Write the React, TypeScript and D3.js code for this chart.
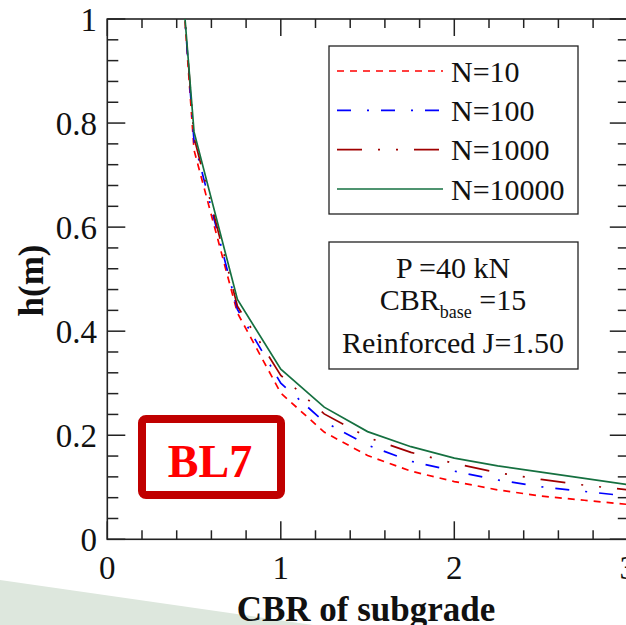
import React from "react";
import * as d3 from "d3";

const cbr = [0.4, 0.5, 0.75, 1, 1.25, 1.5, 1.75, 2, 2.25, 2.5, 2.75, 3];
const hN10 = [1.22, 0.748, 0.435, 0.281, 0.206, 0.161, 0.131, 0.111, 0.095, 0.083, 0.075, 0.067];
const hN100 = [1.21, 0.765, 0.442, 0.3, 0.226, 0.181, 0.15, 0.131, 0.114, 0.101, 0.092, 0.083];
const hN1000 = [1.21, 0.772, 0.448, 0.315, 0.241, 0.196, 0.167, 0.146, 0.128, 0.115, 0.104, 0.095];
const hN10000 = [1.2, 0.783, 0.461, 0.327, 0.254, 0.207, 0.178, 0.156, 0.141, 0.129, 0.117, 0.105];

const seriesNames = ["N=10", "N=100", "N=1000", "N=10000"];
const seriesValues = [hN10, hN100, hN1000, hN10000];
const seriesColors = ["#ff0000", "#0000ff", "#a00000", "#157040"];
const seriesDash = ["7,6", "14,16,2,12", "25,16,2,16,2,16", "none"];

const xMajor = [0, 1, 2, 3];
const yMajor = [0, 0.2, 0.4, 0.6, 0.8, 1];
const yMajorLabels = ["0", "0.2", "0.4", "0.6", "0.8", "1"];
const infoLines = ["P =40 kN", "CBR", "base", " =15", "Reinforced J=1.50"];

const W = 626;
const H = 625;
const L = 107.3;
const R = 627.8;
const T = 19;
const B = 539.3;
const FONT = "'Liberation Serif', 'Times New Roman', serif";

export default function App() {
  const x = d3.scaleLinear().domain([0, 3]).range([L, R]);
  const y = d3.scaleLinear().domain([0, 1]).range([B, T]);
  const xMinor = d3.range(0, 3.0001, 0.2).filter((v) => Math.abs(v - Math.round(v)) > 1e-6);
  const yMinor = d3.range(0, 1.0001, 0.04).filter((v) => Math.abs(v * 5 - Math.round(v * 5)) > 1e-6);
  const line = d3
    .line<number>()
    .x((_, i) => x(cbr[i]))
    .y((d) => y(d));
  const axisColor = "#222";
  const legendYs = [71, 110.3, 149.6, 189];

  return (
    <svg
      width={W}
      height={H}
      style={{ position: "fixed", left: 0, top: 0, background: "#fff" }}
      fontFamily={FONT}
    >
      <rect x={0} y={0} width={W} height={H} fill="#fff" />
      <polygon points={`0,580 313,625 0,625`} fill="#dde7dd" />
      <defs>
        <clipPath id="plotclip">
          <rect x={L} y={T} width={R - L} height={B - T} />
        </clipPath>
      </defs>

      {/* frame */}
      <rect x={L} y={T} width={R - L} height={B - T} fill="none" stroke={axisColor} strokeWidth={1.6} />

      {/* x ticks bottom & top */}
      {xMajor.map((v) => (
        <g key={"xM" + v}>
          <line x1={x(v)} x2={x(v)} y1={B} y2={B - 18} stroke={axisColor} strokeWidth={1.5} />
          <line x1={x(v)} x2={x(v)} y1={T} y2={T + 17} stroke={axisColor} strokeWidth={1.5} />
          <text x={x(v)} y={579} fontSize={33} textAnchor="middle" fill="#111">
            {v}
          </text>
        </g>
      ))}
      {xMinor.map((v) => (
        <g key={"xm" + v}>
          <line x1={x(v)} x2={x(v)} y1={B} y2={B - 9} stroke={axisColor} strokeWidth={1.5} />
          <line x1={x(v)} x2={x(v)} y1={T} y2={T + 9} stroke={axisColor} strokeWidth={1.5} />
        </g>
      ))}

      {/* y ticks left & right */}
      {yMajor.map((v, i) => (
        <g key={"yM" + v}>
          <line x1={L} x2={L + 18} y1={y(v)} y2={y(v)} stroke={axisColor} strokeWidth={1.5} />
          <line x1={R} x2={R - 18} y1={y(v)} y2={y(v)} stroke={axisColor} strokeWidth={1.5} />
          <text x={97} y={y(v) + 11.5} fontSize={33} textAnchor="end" fill="#111">
            {yMajorLabels[i]}
          </text>
        </g>
      ))}
      {yMinor.map((v) => (
        <g key={"ym" + v}>
          <line x1={L} x2={L + 11} y1={y(v)} y2={y(v)} stroke={axisColor} strokeWidth={1.5} />
          <line x1={R} x2={R - 10} y1={y(v)} y2={y(v)} stroke={axisColor} strokeWidth={1.5} />
        </g>
      ))}

      {/* series */}
      <g clipPath="url(#plotclip)">
        {seriesValues.map((vals, i) => (
          <path
            key={seriesNames[i]}
            d={line(vals) || ""}
            fill="none"
            stroke={seriesColors[i]}
            strokeWidth={1.7}
            strokeDasharray={seriesDash[i]}
          />
        ))}
      </g>

      {/* legend */}
      <rect x={329} y={46} width={249} height={168} fill="#fff" stroke={axisColor} strokeWidth={1.3} />
      {seriesNames.map((n, i) => (
        <g key={"lg" + n}>
          <line
            x1={337}
            x2={443}
            y1={legendYs[i]}
            y2={legendYs[i]}
            stroke={seriesColors[i]}
            strokeWidth={1.7}
            strokeDasharray={seriesDash[i]}
          />
          <text x={451} y={legendYs[i] + 10.7} fontSize={30} fill="#111">
            {n}
          </text>
        </g>
      ))}

      {/* info box */}
      <rect x={329} y={242} width={249} height={127} fill="#fff" stroke={axisColor} strokeWidth={1.3} />
      <text x={453} y={278} fontSize={30} textAnchor="middle" fill="#111">
        {infoLines[0]}
      </text>
      <text x={453} y={310} fontSize={30} textAnchor="middle" fill="#111">
        <tspan>{infoLines[1]}</tspan>
        <tspan fontSize={18} dy={8}>
          {infoLines[2]}
        </tspan>
        <tspan dy={-8}>{infoLines[3]}</tspan>
      </text>
      <text x={453} y={353} fontSize={30} textAnchor="middle" fill="#111">
        {infoLines[4]}
      </text>

      {/* BL7 label */}
      <rect x={142} y={419} width={139} height={76} rx={4} fill="#fff" stroke="#c00000" strokeWidth={8} />
      <text x={210} y={477} fontSize={46} fontWeight="bold" textAnchor="middle" fill="#ff0000">
        BL7
      </text>

      {/* axis titles */}
      <text x={366} y={621} fontSize={35} fontWeight="bold" textAnchor="middle" fill="#111">
        CBR of subgrade
      </text>
      <text
        transform="translate(43,280.5) rotate(-90)"
        fontSize={35}
        fontWeight="bold"
        textAnchor="middle"
        fill="#111"
      >
        h(m)
      </text>
    </svg>
  );
}
